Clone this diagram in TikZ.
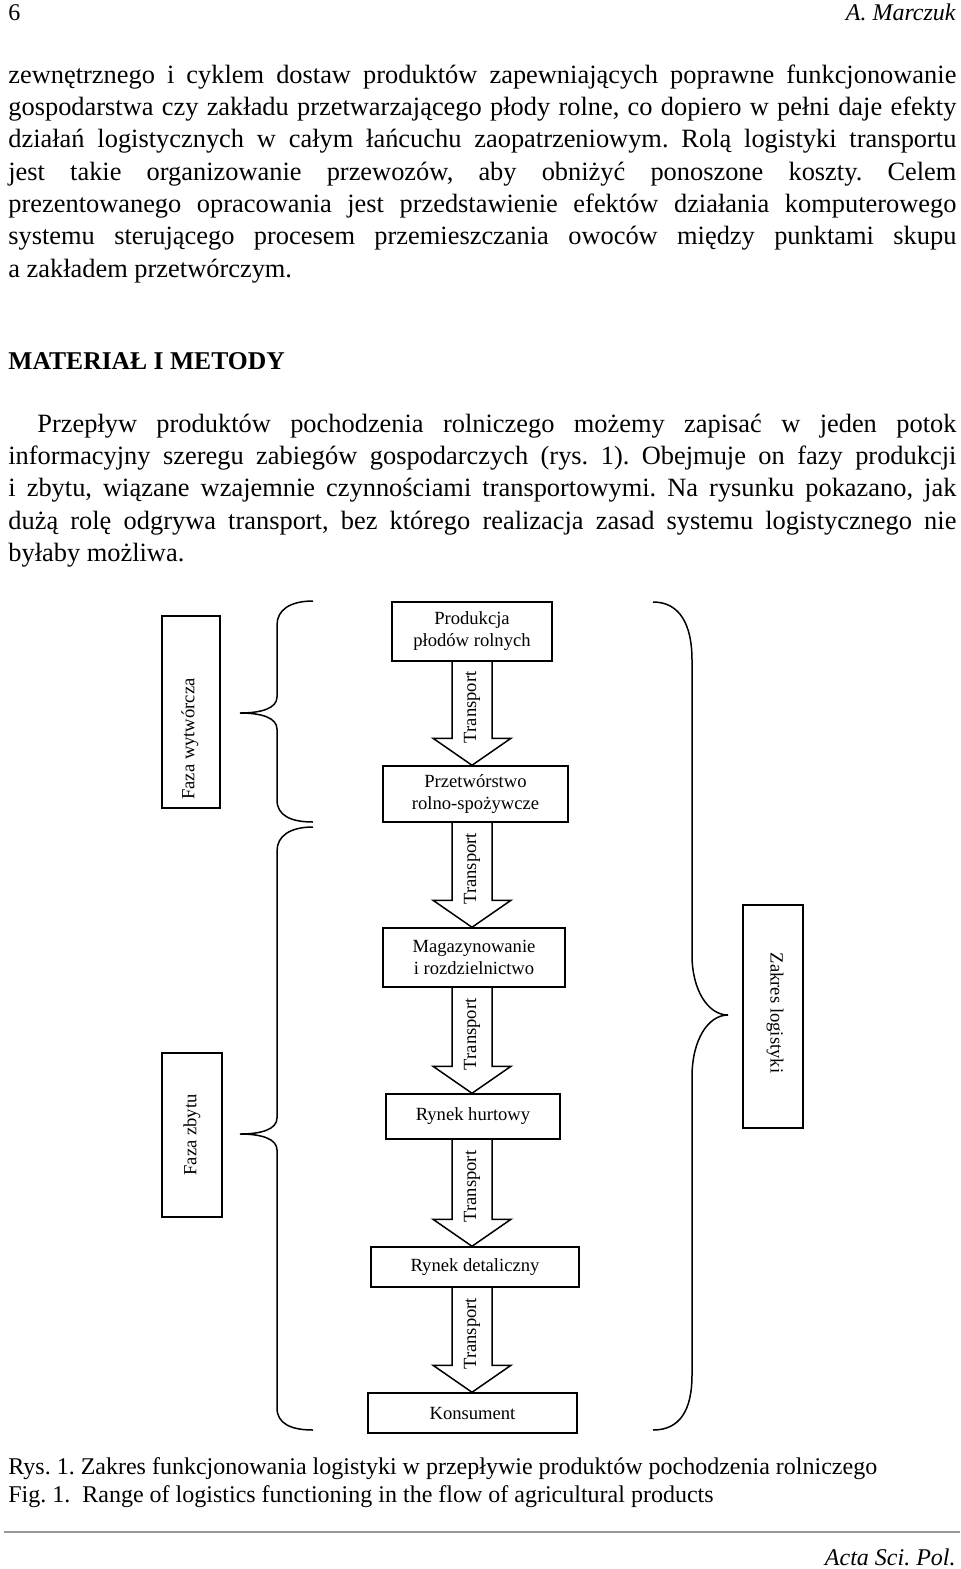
\documentclass[tikz,border=0pt]{standalone}
\usepackage{fontspec}
\setmainfont{Liberation Serif}
\usetikzlibrary{calc,positioning}
\frenchspacing

\tikzset{
  box/.style={rectangle, draw, line width=0.75pt, inner sep=0pt},
  boxtext/.style={align=center, inner sep=0pt, font=\fontsize{9.3}{11}\selectfont},
  flow/.style={line width=0.75pt, line join=miter},
  brace/.style={line width=0.75pt},
  bodyline/.style={anchor=base west, inner sep=0pt, font=\fontsize{13.2}{16}\selectfont},
  headline/.style={anchor=base west, inner sep=0pt, font=\fontsize{12}{14}\selectfont},
  capline/.style={anchor=base west, inner sep=0pt, font=\fontsize{12}{14}\selectfont},
}

% block arrow between two boxes, with its label
\newcommand{\transportarrow}[2]{%
  \draw[flow] ($(axis |- #1.south)+(-20,0)$) -- ($(axis |- #2.north)+(-20,-27)$)
    -- ($(axis |- #2.north)+(-39,-27)$) -- (axis |- #2.north)
    -- ($(axis |- #2.north)+(39,-27)$) -- ($(axis |- #2.north)+(20,-27)$)
    -- ($(axis |- #1.south)+(20,0)$);
  \node[boxtext, rotate=90] (t#1) at ($(axis |- #1.south)!0.44!(axis |- #2.north)$) {Transport};
}

\begin{document}
\begin{tikzpicture}[x=0.5pt, y=-0.5pt]
  \fill[white] (0,0) rectangle (960,1569);
  \useasboundingbox (0,0) rectangle (960,1569);

  % Header
  \node[headline] (pagenum) at (8,20.5) {6};
  \node[headline, anchor=base east] (author) at (956,20.5) {\itshape A. Marczuk};

  % Paragraph 1
  \node[bodyline] (p1) at (8,83) {\makebox[474pt][s]{zewnętrznego i cyklem dostaw produktów zapewniających poprawne funkcjonowanie}};
  \node[bodyline] (p2) at (8,115.3) {\makebox[474pt][s]{gospodarstwa czy zakładu przetwarzającego płody rolne, co dopiero w pełni daje efekty}};
  \node[bodyline] (p3) at (8,147.6) {\makebox[474pt][s]{działań logistycznych w całym łańcuchu zaopatrzeniowym. Rolą logistyki transportu}};
  \node[bodyline] (p4) at (8,180) {\makebox[474pt][s]{jest takie organizowanie przewozów, aby obniżyć ponoszone koszty. Celem}};
  \node[bodyline] (p5) at (8,212.3) {\makebox[474pt][s]{prezentowanego opracowania jest przedstawienie efektów działania komputerowego}};
  \node[bodyline] (p6) at (8,244.6) {\makebox[474pt][s]{systemu sterującego procesem przemieszczania owoców między punktami skupu}};
  \node[bodyline] (p7) at (8,277) {a zakładem przetwórczym.};

  % Section title
  \node[bodyline, font=\fontsize{12.8}{16}\selectfont] (section) at (8,369.5) {\bfseries MATERIAŁ I METODY};

  % Paragraph 2
  \node[bodyline] (q1) at (37,432) {\makebox[459.5pt][s]{Przepływ produktów pochodzenia rolniczego możemy zapisać w jeden potok}};
  \node[bodyline] (q2) at (8,464.5) {\makebox[474pt][s]{informacyjny szeregu zabiegów gospodarczych (rys. 1). Obejmuje on fazy produkcji}};
  \node[bodyline] (q3) at (8,496.8) {\makebox[474pt][s]{i zbytu, wiązane wzajemnie czynnościami transportowymi. Na rysunku pokazano, jak}};
  \node[bodyline] (q4) at (8,529.1) {\makebox[474pt][s]{dużą rolę odgrywa transport, bez którego realizacja zasad systemu logistycznego nie}};
  \node[bodyline] (q5) at (8,561.4) {byłaby możliwa.};

  % Flow boxes
  \coordinate (axis) at (472,0);
  \node[box, minimum width=80pt, minimum height=29.5pt] (prod) at (472,631.5) {};
  \node[boxtext] at (prod.center) {Produkcja\\płodów rolnych};
  \node[box, minimum width=92.5pt, minimum height=28pt] (przet) at (475.5,794) {};
  \node[boxtext] at (przet.center) {Przetwórstwo\\rolno-spożywcze};
  \node[box, minimum width=91pt, minimum height=29.5pt] (mag) at (474,957.5) {};
  \node[boxtext] at (mag.center) {Magazynowanie\\i rozdzielnictwo};
  \node[box, minimum width=87pt, minimum height=22.5pt] (hurt) at (473,1116.5) {};
  \node[boxtext] at (hurt.center) {Rynek hurtowy};
  \node[box, minimum width=104pt, minimum height=20pt] (det) at (475,1267) {};
  \node[boxtext] at (det.center) {Rynek detaliczny};
  \node[box, minimum width=104.5pt, minimum height=20pt] (kons) at (472.5,1413) {};
  \node[boxtext] at (kons.center) {Konsument};

  % Transport arrows
  \transportarrow{prod}{przet}
  \transportarrow{przet}{mag}
  \transportarrow{mag}{hurt}
  \transportarrow{hurt}{det}
  \transportarrow{det}{kons}

  % Phase boxes
  \node[box, minimum width=29pt, minimum height=96pt] (wytw) at (191,712) {};
  \node[boxtext, rotate=90] at (190,739) {Faza wytwórcza};
  \node[box, minimum width=30pt, minimum height=82pt] (zbyt) at (192,1135) {};
  \node[boxtext, rotate=90] at (zbyt.center) {Faza zbytu};
  \node[box, minimum width=30pt, minimum height=111.5pt] (zakres) at (773,1016.5) {};
  \node[boxtext, rotate=-90] at (775,1013) {Zakres logistyki};

  % Braces
  \draw[brace] (313,601) .. controls (290,601) and (277,610) .. (277,625)
    -- (277,697) .. controls (277,708) and (262,713) .. (240,713)
    .. controls (262,713) and (277,718) .. (277,729)
    -- (277,800) .. controls (277,815) and (290,822) .. (313,822);
  \draw[brace] (313,827) .. controls (290,827) and (277,836) .. (277,851)
    -- (277,1118) .. controls (277,1129) and (262,1134) .. (240,1134)
    .. controls (262,1134) and (277,1139) .. (277,1150)
    -- (277,1408) .. controls (277,1423) and (290,1430) .. (313,1430);
  \draw[brace] (653,602) .. controls (680,602) and (692,625) .. (692,660)
    -- (692,955) .. controls (692,990) and (708,1015) .. (728,1015)
    .. controls (708,1015) and (692,1040) .. (692,1077)
    -- (692,1375) .. controls (692,1410) and (680,1430) .. (653,1430);

  % Caption
  \node[capline] (cap1) at (8,1474) {Rys. 1. Zakres funkcjonowania logistyki w przepływie produktów pochodzenia rolniczego};
  \node[capline] (cap2) at (8,1502) {Fig. 1.\ \ Range of logistics functioning in the flow of agricultural products};

  % Footer
  \draw[gray!80, line width=1pt] (4,1532) -- (960,1532);
  \node[headline, anchor=base east] (journal) at (956,1565) {\itshape Acta Sci. Pol.};
\end{tikzpicture}
\end{document}
